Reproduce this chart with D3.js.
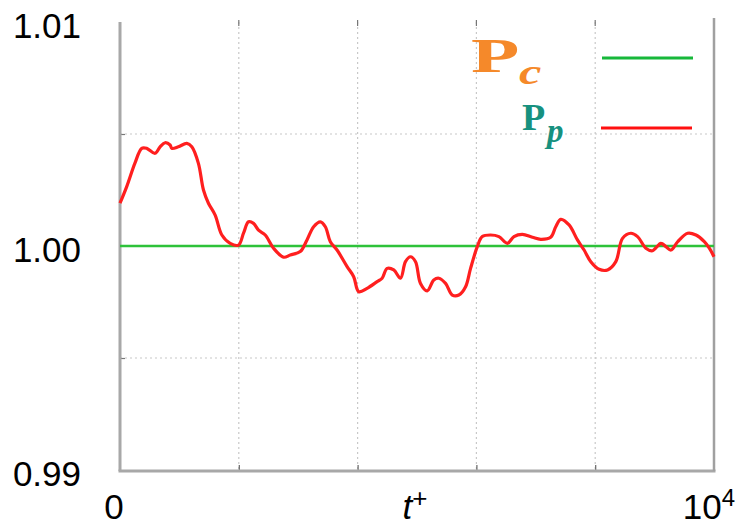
<!DOCTYPE html>
<html>
<head>
<meta charset="utf-8">
<script src="https://cdn.jsdelivr.net/npm/d3@7"></script>
<style>
  body { margin: 0; background: #fff; }
  svg { display: block; }
</style>
</head>
<body>
<svg id="chart"></svg>
<script>
// t+ samples and P_p values
const tValues = [0, 113, 253, 366, 450, 590, 675, 759, 843, 872, 983, 1125, 1209, 1320, 1405, 1489,
  1602, 1715, 1855, 1995, 2079, 2164, 2248, 2332, 2445, 2585, 2754, 2867, 3035, 3148, 3260, 3373,
  3457, 3541, 3654, 3823, 3934, 4019, 4160, 4329, 4413, 4497, 4609, 4722, 4806, 4890, 4975, 5059,
  5172, 5283, 5368, 5481, 5594, 5705, 5818, 5902, 6015, 6099, 6239, 6379, 6521, 6632, 6774, 6943,
  7083, 7251, 7336, 7420, 7560, 7701, 7813, 7926, 8066, 8207, 8347, 8460, 8600, 8713, 8853, 8966,
  9106, 9191, 9275, 9388, 9556, 9696, 9837, 9921, 10000];
const ppValues = [1.00191, 1.00265, 1.00371, 1.00436, 1.00436, 1.00414, 1.00443, 1.00461, 1.00451,
  1.00436, 1.00443, 1.00458, 1.00443, 1.00369, 1.00250, 1.00191, 1.00138, 1.00049, 1.00012, 1.00004,
  1.00057, 1.00108, 1.00101, 1.00071, 1.00049, 0.99990, 0.99950, 0.99960, 0.99975, 1.00027, 1.00086,
  1.00108, 1.00086, 1.00019, 0.99982, 0.99908, 0.99863, 0.99796, 0.99811, 0.99841, 0.99856, 0.99900,
  0.99893, 0.99856, 0.99930, 0.99952, 0.99930, 0.99833, 0.99800, 0.99848, 0.99856, 0.99833, 0.99781,
  0.99781, 0.99818, 0.99900, 0.99997, 1.00042, 1.00049, 1.00042, 1.00012, 1.00042, 1.00052, 1.00039,
  1.00030, 1.00039, 1.00086, 1.00119, 1.00094, 1.00027, 0.99982, 0.99930, 0.99896, 0.99893, 0.99930,
  1.00034, 1.00057, 1.00042, 0.99990, 0.99979, 1.00012, 0.99997, 0.99982, 1.00019, 1.00057, 1.00049,
  1.00019, 0.99990, 0.99952];
const pcValue = 1.0;

const yLabels = [0.99, 1.00, 1.01];
const yGrid = [0.995, 1.005];
const xGrid = [2000, 4000, 6000, 8000];

const W = 736, H = 523;
const plotLeft = 120, plotRight = 714, plotTop = 22, plotBottom = 470;

const svg = d3.select("#chart")
  .attr("width", W)
  .attr("height", H);

const x = d3.scaleLinear().domain([0, 10000]).range([plotLeft, plotRight]);
const y = d3.scaleLinear().domain([0.99, 1.01]).range([plotBottom, plotTop]);

// grid
svg.append("g")
  .selectAll("line")
  .data(xGrid)
  .join("line")
  .attr("x1", d => x(d)).attr("x2", d => x(d))
  .attr("y1", plotTop).attr("y2", plotBottom)
  .attr("stroke", "#c8c8c8")
  .attr("stroke-width", 1.2)
  .attr("stroke-dasharray", "2,3");

svg.append("g")
  .selectAll("line")
  .data(yGrid)
  .join("line")
  .attr("x1", plotLeft).attr("x2", plotRight)
  .attr("y1", d => y(d)).attr("y2", d => y(d))
  .attr("stroke", "#c8c8c8")
  .attr("stroke-width", 1.2)
  .attr("stroke-dasharray", "2,3");

// small ticks on the top edge
svg.append("g")
  .selectAll("line")
  .data(xGrid)
  .join("line")
  .attr("x1", d => x(d)).attr("x2", d => x(d))
  .attr("y1", plotTop - 2).attr("y2", plotTop + 4)
  .attr("stroke", "#777")
  .attr("stroke-width", 1.2);

// left axis
const yAxis = d3.axisLeft(y)
  .tickValues(yGrid)
  .tickSize(-5)
  .tickFormat("");
const gy = svg.append("g")
  .attr("transform", `translate(${plotLeft},0)`)
  .call(yAxis);
gy.select(".domain").remove();
gy.selectAll(".tick line").attr("stroke", "#777").attr("stroke-width", 1.2);

svg.append("line")
  .attr("x1", plotLeft).attr("x2", plotLeft)
  .attr("y1", plotTop).attr("y2", plotBottom + 1)
  .attr("stroke", "#a8a8a8")
  .attr("stroke-width", 3);

// bottom axis
const xAxis = d3.axisBottom(x)
  .tickValues(xGrid)
  .tickSize(-5)
  .tickFormat("");
const gx = svg.append("g")
  .attr("transform", `translate(0,${plotBottom})`)
  .call(xAxis);
gx.select(".domain").remove();
gx.selectAll(".tick line").attr("stroke", "#666").attr("stroke-width", 1.2);

svg.append("line")
  .attr("x1", plotLeft - 1.5).attr("x2", plotRight + 1.5)
  .attr("y1", plotBottom + 1).attr("y2", plotBottom + 1)
  .attr("stroke", "#a8a8a8")
  .attr("stroke-width", 3);

// right edge
svg.append("line")
  .attr("x1", plotRight).attr("x2", plotRight)
  .attr("y1", 18).attr("y2", plotBottom + 1)
  .attr("stroke", "#a0a0a0")
  .attr("stroke-width", 2.5);

// y labels
svg.append("g")
  .selectAll("text")
  .data(yLabels)
  .join("text")
  .attr("x", 81)
  .attr("y", d => y(d) + 16)
  .attr("text-anchor", "end")
  .attr("font-family", "Liberation Sans, Arial, sans-serif")
  .attr("font-size", 35)
  .attr("fill", "#000")
  .text(d => d3.format(".2f")(d));

// x labels
const xlab = svg.append("g")
  .attr("font-family", "Liberation Sans, Arial, sans-serif")
  .attr("fill", "#000");

xlab.append("text")
  .attr("x", x(0) - 6)
  .attr("y", 519)
  .attr("text-anchor", "middle")
  .attr("font-size", 35)
  .text("0");

const tl = xlab.append("text")
  .attr("x", x(5000) - 2)
  .attr("y", 519)
  .attr("text-anchor", "middle")
  .attr("font-size", 35);
tl.append("tspan").attr("font-style", "italic").text("t");
tl.append("tspan").attr("font-size", 26).attr("dy", -12).text("+");

const tr = xlab.append("text")
  .attr("x", 735)
  .attr("y", 519)
  .attr("text-anchor", "end")
  .attr("font-size", 35);
tr.append("tspan").text("10");
tr.append("tspan").attr("font-size", 24).attr("dy", -13).text("4");

// P_c line
svg.append("line")
  .attr("x1", plotLeft).attr("x2", plotRight)
  .attr("y1", y(pcValue)).attr("y2", y(pcValue))
  .attr("stroke", "#2ec23a")
  .attr("stroke-width", 2.5);

// P_p curve
const line = d3.line()
  .x((d, i) => x(tValues[i]))
  .y(d => y(d))
  .curve(d3.curveCatmullRom.alpha(0.5));

svg.append("path")
  .datum(ppValues)
  .attr("d", line)
  .attr("fill", "none")
  .attr("stroke", "#ff1f1f")
  .attr("stroke-width", 3.2)
  .attr("stroke-linejoin", "round");

// legend
const legend = svg.append("g").attr("font-family", "Liberation Serif, Times New Roman, serif");

legend.append("text")
  .attr("transform", "translate(471,72) scale(1.65,1)")
  .attr("font-size", 48)
  .attr("font-weight", "bold")
  .attr("fill", "#f5892a")
  .text("P");
legend.append("text")
  .attr("transform", "translate(519,84) scale(1.4,1)")
  .attr("font-size", 36)
  .attr("font-weight", "bold")
  .attr("font-style", "italic")
  .attr("fill", "#f5892a")
  .text("c");

legend.append("text")
  .attr("x", 522).attr("y", 130)
  .attr("font-size", 38)
  .attr("font-weight", "bold")
  .attr("fill", "#17917f")
  .text("P");
legend.append("text")
  .attr("x", 547).attr("y", 142)
  .attr("font-size", 33)
  .attr("font-weight", "bold")
  .attr("font-style", "italic")
  .attr("fill", "#17917f")
  .text("p");

legend.append("line")
  .attr("x1", 602).attr("x2", 693)
  .attr("y1", 58).attr("y2", 58)
  .attr("stroke", "#17b83a")
  .attr("stroke-width", 3);
legend.append("line")
  .attr("x1", 601).attr("x2", 692)
  .attr("y1", 128).attr("y2", 128)
  .attr("stroke", "#ff1010")
  .attr("stroke-width", 3);
</script>
</body>
</html>
